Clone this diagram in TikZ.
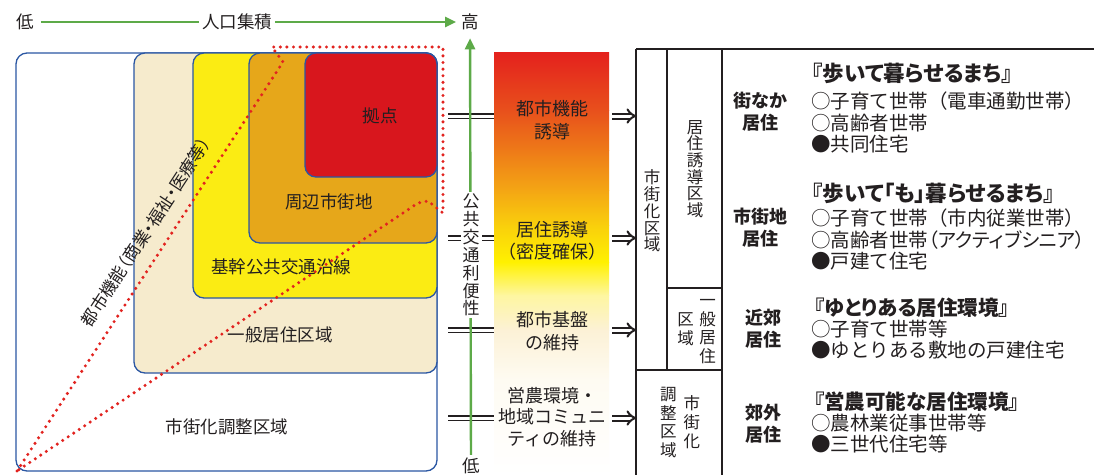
\documentclass[tikz,border=0pt]{standalone}
\usepackage{fontspec}
\setmainfont{Noto Sans CJK JP}
\newfontfamily\jpp[RawFeature=+palt]{Noto Sans CJK JP}
\usetikzlibrary{arrows.meta}
\definecolor{axgreen}{HTML}{5DAA48}
\definecolor{zoneblue}{HTML}{2B57A3}
\definecolor{zbeige}{HTML}{F6EBCD}
\definecolor{zyellow}{HTML}{FBEC13}
\definecolor{zorange}{HTML}{E6A71A}
\definecolor{zred}{HTML}{D8161D}
\definecolor{dotred}{HTML}{E2231F}
\definecolor{txt}{HTML}{231F20}
\definecolor{g1}{HTML}{E4211D}
\definecolor{g2}{HTML}{E8501C}
\definecolor{g3}{HTML}{EE7A18}
\definecolor{g4}{HTML}{F4A614}
\definecolor{g5}{HTML}{F9CF0C}
\definecolor{g6}{HTML}{FFF100}
\definecolor{g7}{HTML}{FEF6A0}
\definecolor{g8}{HTML}{FCF1D6}
\definecolor{g9}{HTML}{FEFBF2}
\newcommand{\fs}[2]{\fontsize{#1}{#2}\selectfont}
\begin{document}
\begin{tikzpicture}[x=1pt,y=-1pt,
  every node/.style={text=txt, inner sep=1pt},
  zone/.style={draw=zoneblue, line width=1.3pt, rounded corners=11pt},
  zlabel/.style={font=\fs{17.5}{20}},
  axis/.style={draw=axgreen, line width=2.4pt, -{Triangle[length=11pt,width=10pt]}},
  axlabel/.style={font=\fs{17.5}{20}},
  dotline/.style={draw=dotred, line width=3.4pt, line cap=round, line join=round, dash pattern=on 0pt off 6.6pt},
  dbl/.style={draw=txt, double=white, double distance=3pt, line width=1.8pt},
  darr/.style={draw=txt, double=white, double distance=3pt, line width=2pt, -{Implies[scale=1.2]}},
  tab/.style={draw=txt, line width=1.1pt},
  bartext/.style={font=\fs{18}{22.5}, align=center},
  vtext/.style={font=\fs{16.5}{16.7}, align=center},
  head/.style={font=\bfseries\fs{18}{22}, align=center},
  title/.style={font=\jpp\bfseries\fs{21.5}{23}, anchor=west},
  items/.style={font=\fs{19.5}{21.5}, anchor=west, align=left},
]
\useasboundingbox (0,0) rectangle (1094,475);
\fill[white] (0,0) rectangle (1094,475);

% zones
\draw[zone, fill=white]   (16,53) rectangle (437,471);
\draw[zone, fill=zbeige]  (134,53) rectangle (437,373);
\draw[zone, fill=zyellow] (193,53) rectangle (437,298);
\draw[zone, fill=zorange] (249,53) rectangle (437,243);
\draw[zone, fill=zred]    (305,53) rectangle (437,177);

% red dotted outline
\draw[dotline] (17,471) -- (283,62) -- (272,47) -- (443,47) -- (443,213) -- (428,201) -- (418,203) -- cycle;

% zone labels
\node[zlabel] (kyoten) at (380,116) {拠点};
\node[zlabel] (shuhen) at (329,202) {周辺市街地};
\node[zlabel] (kikan) at (281,267) {基幹公共交通沿線};
\node[zlabel] (ippan) at (280,335) {一般居住区域};
\node[zlabel] (chosei) at (227,427) {市街化調整区域};
\node[font=\jpp\fs{17}{20}, rotate=56.8] (func) at (146,232) {都市機能（商業・福祉・医療等）};

% top axis
\node[axlabel] (lo) at (25,22) {低};
\node[axlabel] (hi) at (470,22) {高};
\draw[axis, shorten <=6pt, shorten >=4pt] (lo) -- (hi);
\node[axlabel, fill=white, inner xsep=3pt] (pop) at (237,22) {人口集積};

% left double connectors
\coordinate (l1) at (448,116); \coordinate (m1) at (495,116);
\coordinate (l2) at (448,238); \coordinate (m2) at (495,238);
\coordinate (l3) at (448,330); \coordinate (m3) at (495,330);
\coordinate (l4) at (448,418); \coordinate (m4) at (495,418);
\draw[dbl] (l1) -- (m1);
\draw[dbl] (l2) -- (m2);
\draw[dbl] (l3) -- (m3);
\draw[dbl] (l4) -- (m4);

% vertical axis
\node[axlabel] (vlo) at (471,466) {低};
\draw[axis, shorten <=2pt, shorten >=7pt] (vlo) -- (hi);
\node[font=\fs{17}{17.9}, align=center, fill=white, inner xsep=2pt, inner ysep=2pt] (koukyo) at (471,255) {公\\共\\交\\通\\利\\便\\性};

% gradient bar
\shade[top color=g1, bottom color=g2] (494,52) rectangle (609,110.5);
\shade[top color=g2, bottom color=g3] (494,110) rectangle (609,150.5);
\shade[top color=g3, bottom color=g4] (494,150) rectangle (609,190.5);
\shade[top color=g4, bottom color=g5] (494,190) rectangle (609,225.5);
\shade[top color=g5, bottom color=g6] (494,225) rectangle (609,262.5);
\shade[top color=g6, bottom color=g7] (494,262) rectangle (609,295.5);
\shade[top color=g7, bottom color=g8] (494,295) rectangle (609,330.5);
\shade[top color=g8, bottom color=g9] (494,330) rectangle (609,380.5);
\shade[top color=g9, bottom color=white] (494,380) rectangle (609,475);

\node[bartext] (b1) at (552,120) {都市機能\\誘導};
\node[bartext] (b2) at (552,241) {居住誘導\\（密度確保）};
\node[bartext] (b3) at (552,331) {都市基盤\\の維持};
\node[bartext, font=\fs{18}{21.5}] (b4) at (552,417) {営農環境・\\地域コミュニ\\ティの維持};

% right arrows
\coordinate (r1) at (612,116); \coordinate (t1) at (637,116);
\coordinate (r2) at (612,238); \coordinate (t2) at (637,238);
\coordinate (r3) at (612,330); \coordinate (t3) at (637,330);
\coordinate (r4) at (612,418); \coordinate (t4) at (637,418);
\draw[darr] (r1) -- (t1);
\draw[darr] (r2) -- (t2);
\draw[darr] (r3) -- (t3);
\draw[darr] (r4) -- (t4);

% table
\draw[tab] (636,49) -- (1094,49);
\draw[tab] (636,49) -- (636,475);
\draw[tab] (667,49) -- (667,370);
\draw[tab] (722,49) -- (722,475);
\draw[tab] (667,288) -- (722,288);
\draw[tab] (636,370) -- (722,370);

\node[vtext] (shigaika) at (652,211) {市\\街\\化\\区\\域};
\node[vtext] (kyoju) at (695,169) {居\\住\\誘\\導\\区\\域};
\node[font=\fs{16.5}{16.7}] (ippanku) at (696.5,331) {\begin{tabular}{@{}c@{}}区\\域\end{tabular}\hspace{5.5pt}\begin{tabular}{@{}c@{}}一\\般\\居\\住\end{tabular}};
\node[font=\fs{16.5}{16.9}] (choseiku) at (680,424) {\begin{tabular}{@{}c@{}}調\\整\\区\\域\end{tabular}\hspace{7pt}\begin{tabular}{@{}c@{}}市\\街\\化\end{tabular}};

% right descriptions
\node[title] (t1t) at (811,73) {『歩いて暮らせるまち』};
\node[head] (h1) at (760,112) {街なか\\居住};
\node[items] (i1) at (810,122.5) {○子育て世帯（電車通勤世帯）\\○高齢者世帯\\●共同住宅};

\node[title] (t2t) at (811,193) {『歩いて「も」暮らせるまち』};
\node[head] (h2) at (760,228) {市街地\\居住};
\node[items] (i2) at (810,239.5) {○子育て世帯（市内従業世帯）\\○高齢者世帯{\jpp（アクティブシニア）}\\●戸建て住宅};

\node[title, font=\jpp\bfseries\fs{20.5}{23}] (t3t) at (813,308) {『ゆとりある居住環境』};
\node[head] (h3) at (763,329) {近郊\\居住};
\node[items] (i3) at (810,339.5) {○子育て世帯等\\●ゆとりある敷地の戸建住宅};

\node[title, font=\jpp\bfseries\fs{20.5}{23}] (t4t) at (813,402) {『営農可能な居住環境』};
\node[head] (h4) at (763,424) {郊外\\居住};
\node[items] (i4) at (810,433.5) {○農林業従事世帯等\\●三世代住宅等};
\end{tikzpicture}
\end{document}
